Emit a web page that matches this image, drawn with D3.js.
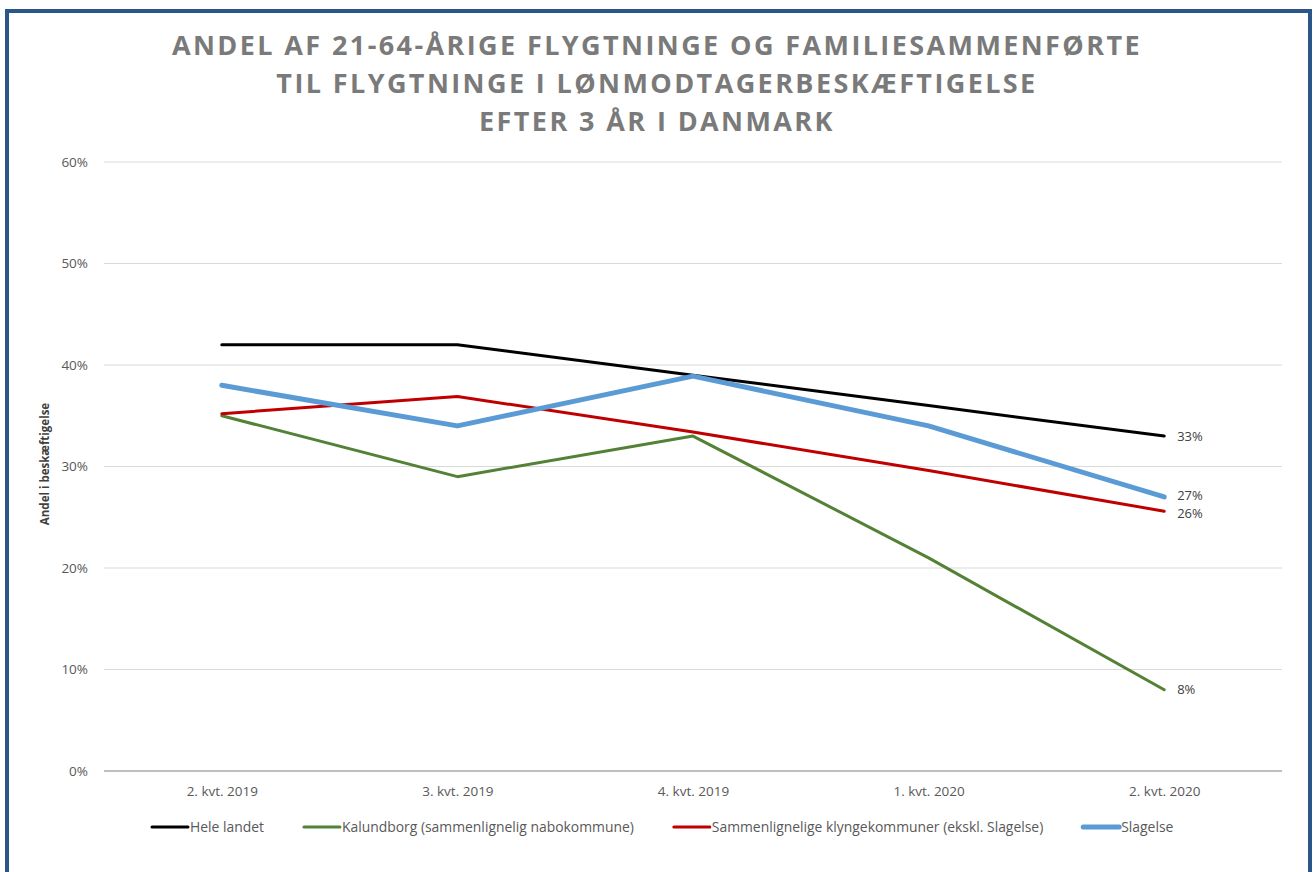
<!DOCTYPE html>
<html><head><meta charset="utf-8">
<script src="https://cdn.jsdelivr.net/npm/d3@7"></script>
<style>body{margin:0;background:#fff;}svg{display:block;}</style>
</head><body>
<script>
const categories = ["2. kvt. 2019","3. kvt. 2019","4. kvt. 2019","1. kvt. 2020","2. kvt. 2020"];
const heleLandet = [42, 42, 39, 36, 33];
const kalundborg = [35, 29, 33, 21, 8];
const klynge = [35.2, 36.9, 33.4, 29.6, 25.6];
const slagelse = [38, 34, 38.9, 34, 27];
const yTicks = [0, 10, 20, 30, 40, 50, 60];
const titleLines = ["ANDEL AF 21-64-ÅRIGE FLYGTNINGE OG FAMILIESAMMENFØRTE","TIL FLYGTNINGE I LØNMODTAGERBESKÆFTIGELSE","EFTER 3 ÅR I DANMARK"];
const seriesNames = ["Hele landet","Kalundborg (sammenlignelig nabokommune)","Sammenlignelige klyngekommuner (ekskl. Slagelse)","Slagelse"];

const series = [
  {name: seriesNames[0], values: heleLandet, color: "#000000", width: 3},
  {name: seriesNames[1], values: kalundborg, color: "#538135", width: 3},
  {name: seriesNames[2], values: klynge, color: "#c00000", width: 3},
  {name: seriesNames[3], values: slagelse, color: "#5b9bd5", width: 5}
];

const W = 1314, H = 872;
const font = "'Open Sans', sans-serif";
const svg = d3.select("body").append("svg").attr("width", W).attr("height", H);
svg.append("rect").attr("width", W).attr("height", H).attr("fill", "#fff");
svg.append("rect").attr("x", 7).attr("y", 11).attr("width", 1303).attr("height", 920)
  .attr("fill", "none").attr("stroke", "#2b5788").attr("stroke-width", 4);

// title
const tl = svg.append("g");
titleLines.forEach((t, i) => {
  tl.append("text").attr("x", 657).attr("y", 55 + i * 38)
    .attr("text-anchor", "middle").attr("font-family", font).attr("font-weight", 700)
    .attr("font-size", 27).attr("letter-spacing", 2.4).attr("fill", "#7a7a7a").text(t);
});

const x = d3.scalePoint().domain(categories).range([104, 1282]).padding(0.5);
const y = d3.scaleLinear().domain([0, 60]).range([771, 162]);

// grid
const grid = svg.append("g");
grid.selectAll("line").data(yTicks.filter(d => d > 0)).join("line")
  .attr("x1", 104).attr("x2", 1282).attr("y1", d => y(d)).attr("y2", d => y(d))
  .attr("stroke", "#d9d9d9").attr("stroke-width", 1);
grid.append("line").attr("x1", 104).attr("x2", 1282).attr("y1", y(0)).attr("y2", y(0))
  .attr("stroke", "#bfbfbf").attr("stroke-width", 2);

// y axis
const yAxis = svg.append("g").attr("transform", "translate(94,0)")
  .call(d3.axisLeft(y).tickValues(yTicks).tickFormat(d => d + "%").tickSize(0).tickPadding(6));
yAxis.select(".domain").remove();
yAxis.selectAll("text").attr("font-family", font).attr("font-size", 13.5).attr("fill", "#595959");

// x axis
const xAxis = svg.append("g").attr("transform", `translate(0,${y(0)})`)
  .call(d3.axisBottom(x).tickSize(0).tickPadding(15));
xAxis.select(".domain").remove();
xAxis.selectAll("text").attr("font-family", font).attr("font-size", 13.5).attr("fill", "#595959");

// axis title
svg.append("text").attr("transform", "translate(49,464) rotate(-90)")
  .attr("text-anchor", "middle").attr("font-family", font).attr("font-weight", 700)
  .attr("font-size", 11.5).attr("fill", "#404040").text("Andel i beskæftigelse");

// lines
const line = d3.line().x((d, i) => x(categories[i])).y(d => y(d));
svg.append("g").selectAll("path").data(series).join("path")
  .attr("d", d => line(d.values)).attr("fill", "none")
  .attr("stroke", d => d.color).attr("stroke-width", d => d.width)
  .attr("stroke-linejoin", "round").attr("stroke-linecap", "round");

// end labels with minimal collision separation
const last = categories.length - 1;
const labels = series.map(s => ({text: Math.round(s.values[last]) + "%", y: y(s.values[last])}))
  .sort((a, b) => a.y - b.y);
const minGap = 18;
for (let i = 1; i < labels.length; i++) {
  const gap = labels[i].y - labels[i - 1].y;
  if (gap < minGap) {
    const shift = (minGap - gap) / 2;
    labels[i - 1].y -= shift;
    labels[i].y += shift;
  }
}
svg.append("g").selectAll("text").data(labels).join("text")
  .attr("x", x(categories[last]) + 13).attr("y", d => d.y)
  .attr("dy", "0.35em").attr("font-family", font).attr("font-size", 13).attr("fill", "#404040")
  .text(d => d.text);

// legend
const lg = svg.append("g");
let lx = 152;
const ly = 827;
series.forEach(s => {
  lg.append("line").attr("x1", lx).attr("x2", lx + 36).attr("y1", ly).attr("y2", ly)
    .attr("stroke", s.color).attr("stroke-width", s.width).attr("stroke-linecap", "round");
  const t = lg.append("text").attr("x", lx + 38).attr("y", ly).attr("dy", "0.35em")
    .attr("font-family", font).attr("font-size", 13.9).attr("fill", "#595959").text(s.name);
  lx += 38 + t.node().getComputedTextLength() + 40;
});
</script>
</body></html>
